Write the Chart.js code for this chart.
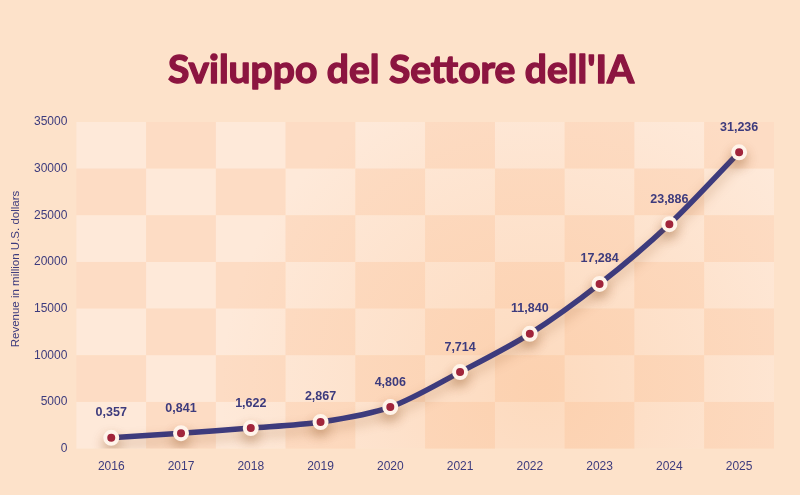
<!DOCTYPE html>
<html>
<head>
<meta charset="utf-8">
<script src="https://cdn.jsdelivr.net/npm/chart.js@4.4.1/dist/chart.umd.min.js"></script>
<style>
    html, body {
        margin: 0;
        padding: 0;
        background: #fde2ca;
    }
    .wrap {
        width: 800px;
        height: 495px;
    }
</style>
</head>
<body>
<div class="wrap"><canvas id="chart"></canvas></div>
<script>
// dati del grafico
const years = ['2016', '2017', '2018', '2019', '2020', '2021', '2022', '2023', '2024', '2025'];
const revenue = [1150, 1650, 2200, 2850, 4450, 8200, 12300, 17650, 24050, 31750];
const revenueLabels = ['0,357', '0,841', '1,622', '2,867', '4,806', '7,714', '11,840', '17,284', '23,886', '31,236'];
const yTicks = [0, 5000, 10000, 15000, 20000, 25000, 30000, 35000];
const titleText = "Sviluppo del Settore dell'IA";
const yTitleText = 'Revenue in million U.S. dollars';

const navy = '#3d3b7d';
const crimson = '#a3203f';

// sfondo a scacchiera dietro l'area del grafico
const checkerPlugin = {
    id: 'checker',
    beforeDraw(chart) {
        const {ctx, chartArea, scales} = chart;
        ctx.save();
        ctx.fillStyle = '#fde2ca';
        ctx.fillRect(0, 0, chart.width, chart.height);

        const half = (scales.x.getPixelForValue(1) - scales.x.getPixelForValue(0)) / 2;
        for (let c = 0; c < years.length; c++) {
            const cx = scales.x.getPixelForValue(c);
            for (let r = 0; r < yTicks.length - 1; r++) {
                const top = scales.y.getPixelForValue(yTicks[yTicks.length - 1 - r]);
                const bottom = scales.y.getPixelForValue(yTicks[yTicks.length - 2 - r]);
                ctx.fillStyle = (r + c) % 2 === 0 ? '#fee9d9' : '#fddcc4';
                ctx.fillRect(cx - half, top, half * 2, bottom - top);
            }
        }

        // alone caldo in basso al centro
        const g = ctx.createRadialGradient(540, 390, 10, 540, 390, 320);
        g.addColorStop(0, 'rgba(250, 185, 130, 0.3)');
        g.addColorStop(1, 'rgba(250, 185, 130, 0)');
        ctx.fillStyle = g;
        ctx.fillRect(chartArea.left, chartArea.top, chartArea.width, chartArea.height);

        // titolo centrato sulla tela
        ctx.font = 'bold 39px Lato, sans-serif';
        ctx.fillStyle = '#8c1540';
        ctx.strokeStyle = '#8c1540';
        ctx.lineWidth = 1.4;
        ctx.lineJoin = 'round';
        ctx.textAlign = 'center';
        ctx.textBaseline = 'alphabetic';
        ctx.fillText(titleText, chart.width / 2 + 1, 83);
        ctx.strokeText(titleText, chart.width / 2 + 1, 83);

        // titolo dell'asse y
        ctx.translate(16, 269);
        ctx.rotate(-Math.PI / 2);
        ctx.font = '11.5px "Liberation Sans", Arial, sans-serif';
        ctx.fillStyle = navy;
        ctx.textBaseline = 'middle';
        ctx.fillText(yTitleText, 0, 0);
        ctx.restore();
    }
};

// ombra morbida sotto la linea
const shadowPlugin = {
    id: 'lineShadow',
    beforeDatasetDraw(chart) {
        const ctx = chart.ctx;
        ctx.save();
        ctx.shadowColor = 'rgba(150, 90, 40, 0.35)';
        ctx.shadowBlur = 12;
        ctx.shadowOffsetY = 6;
    },
    afterDatasetDraw(chart) {
        chart.ctx.restore();
    }
};

// etichette dei valori sopra i punti
const labelPlugin = {
    id: 'valueLabels',
    afterDatasetsDraw(chart) {
        const ctx = chart.ctx;
        const meta = chart.getDatasetMeta(0);
        ctx.save();
        ctx.font = 'bold 12.5px "Liberation Sans", Arial, sans-serif';
        ctx.fillStyle = navy;
        ctx.textAlign = 'center';
        ctx.textBaseline = 'middle';
        meta.data.forEach((pt, i) => {
            ctx.fillText(revenueLabels[i], pt.x, pt.y - 25);
        });
        ctx.restore();
    }
};

const ctx = document.getElementById('chart').getContext('2d');
const chart = new Chart(ctx, {
    type: 'line',
    data: {
        labels: years,
        datasets: [{
            data: revenue,
            borderColor: navy,
            borderWidth: 5.5,
            tension: 0.3,
            pointRadius: 6,
            pointBorderWidth: 4,
            pointBackgroundColor: crimson,
            pointBorderColor: '#fff4ea',
            pointHoverRadius: 6,
            fill: false
        }]
    },
    options: {
        responsive: true,
        maintainAspectRatio: false,
        animation: false,
        layout: {
            padding: {left: 33, right: 26, top: 122, bottom: 18}
        },
        plugins: {
            legend: {display: false},
            tooltip: {enabled: false},
            title: {display: false}
        },
        scales: {
            x: {
                offset: true,
                grid: {display: false},
                border: {display: false},
                ticks: {
                    color: navy,
                    font: {family: 'Liberation Sans', size: 12},
                    padding: 3
                }
            },
            y: {
                min: 0,
                max: 35000,
                grid: {display: false},
                border: {display: false},
                afterBuildTicks(axis) {
                    axis.ticks = yTicks.map(v => ({value: v}));
                },
                ticks: {
                    color: navy,
                    font: {family: 'Liberation Sans', size: 12},
                    padding: 1,
                    callback: v => String(v)
                }
            }
        }
    },
    plugins: [checkerPlugin, shadowPlugin, labelPlugin]
});
</script>
</body>
</html>
